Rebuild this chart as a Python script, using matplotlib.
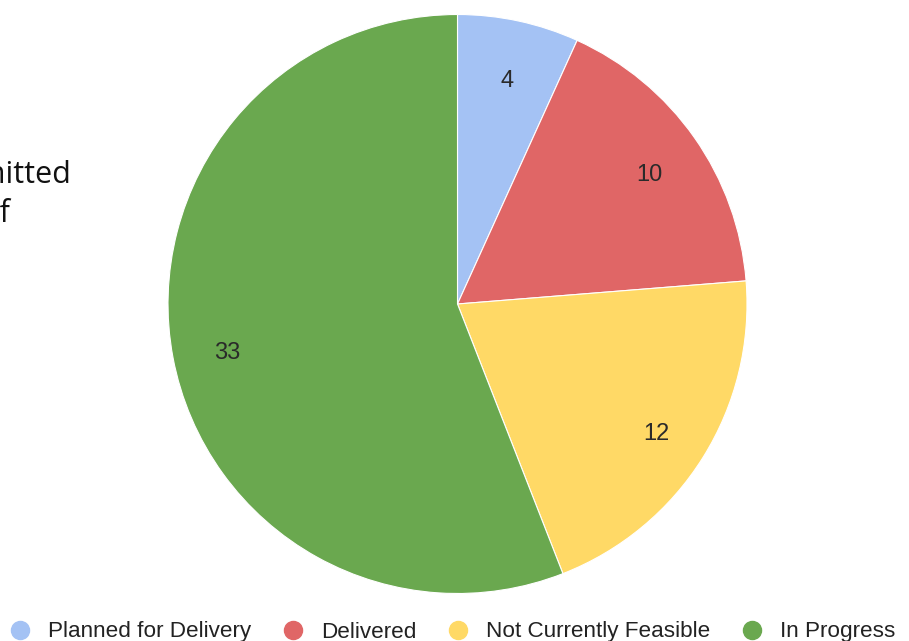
import matplotlib.pyplot as plt
from matplotlib.lines import Line2D

labels = ["Planned for Delivery", "Delivered", "Not Currently Feasible", "In Progress"]
counts = [4, 10, 12, 33]
colors = ["#a4c2f4", "#e06666", "#ffd966", "#6aa84f"]

W, H = 909, 641
fig = plt.figure(figsize=(W / 100, H / 100), dpi=100)

# pie centre and radius in pixels
cx, cy, r = 457.5, 304, 289.5
ax = fig.add_axes([(cx - r) / W, (H - cy - r) / H, 2 * r / W, 2 * r / H])
wedges, texts = ax.pie(counts, colors=colors, startangle=90, counterclock=False,
                       labels=[str(c) for c in counts], labeldistance=0.81,
                       wedgeprops=dict(edgecolor="white", linewidth=0.8),
                       textprops=dict(fontsize=17, color="#2a2a2a",
                                      family="Liberation Sans"))
for t in texts:
    t.set_ha("center")
    t.set_va("center")
    x, y = t.get_position()
    t.set_position((x, y - 6 / r))  # labels sit a little low in the original
ax.set_xlim(-1, 1)
ax.set_ylim(-1, 1)
ax.set_aspect("equal")
ax.axis("off")

# cut-off text on the left edge
fig.text(71 / W, 1 - 183 / H, "Submitted", ha="right", va="baseline",
         fontsize=22, family="Open Sans", color="#111111")
fig.text(10 / W, 1 - 222 / H, "Number of", ha="right", va="baseline",
         fontsize=22, family="Open Sans", color="#111111")

handles = [Line2D([], [], marker="o", linestyle="none", markersize=13,
                  markerfacecolor=c, markeredgecolor=c) for c in colors]
fig.legend(handles, labels, ncol=4, loc="center left",
           bbox_to_anchor=(11 / W, 1 - 632 / H), frameon=False,
           prop=dict(family="Liberation Sans", size=16.2),
           handlelength=0.8, handletextpad=0.85, columnspacing=1.45,
           labelcolor="#222222", borderaxespad=0, borderpad=0)

fig.savefig("out.png", dpi=100)
